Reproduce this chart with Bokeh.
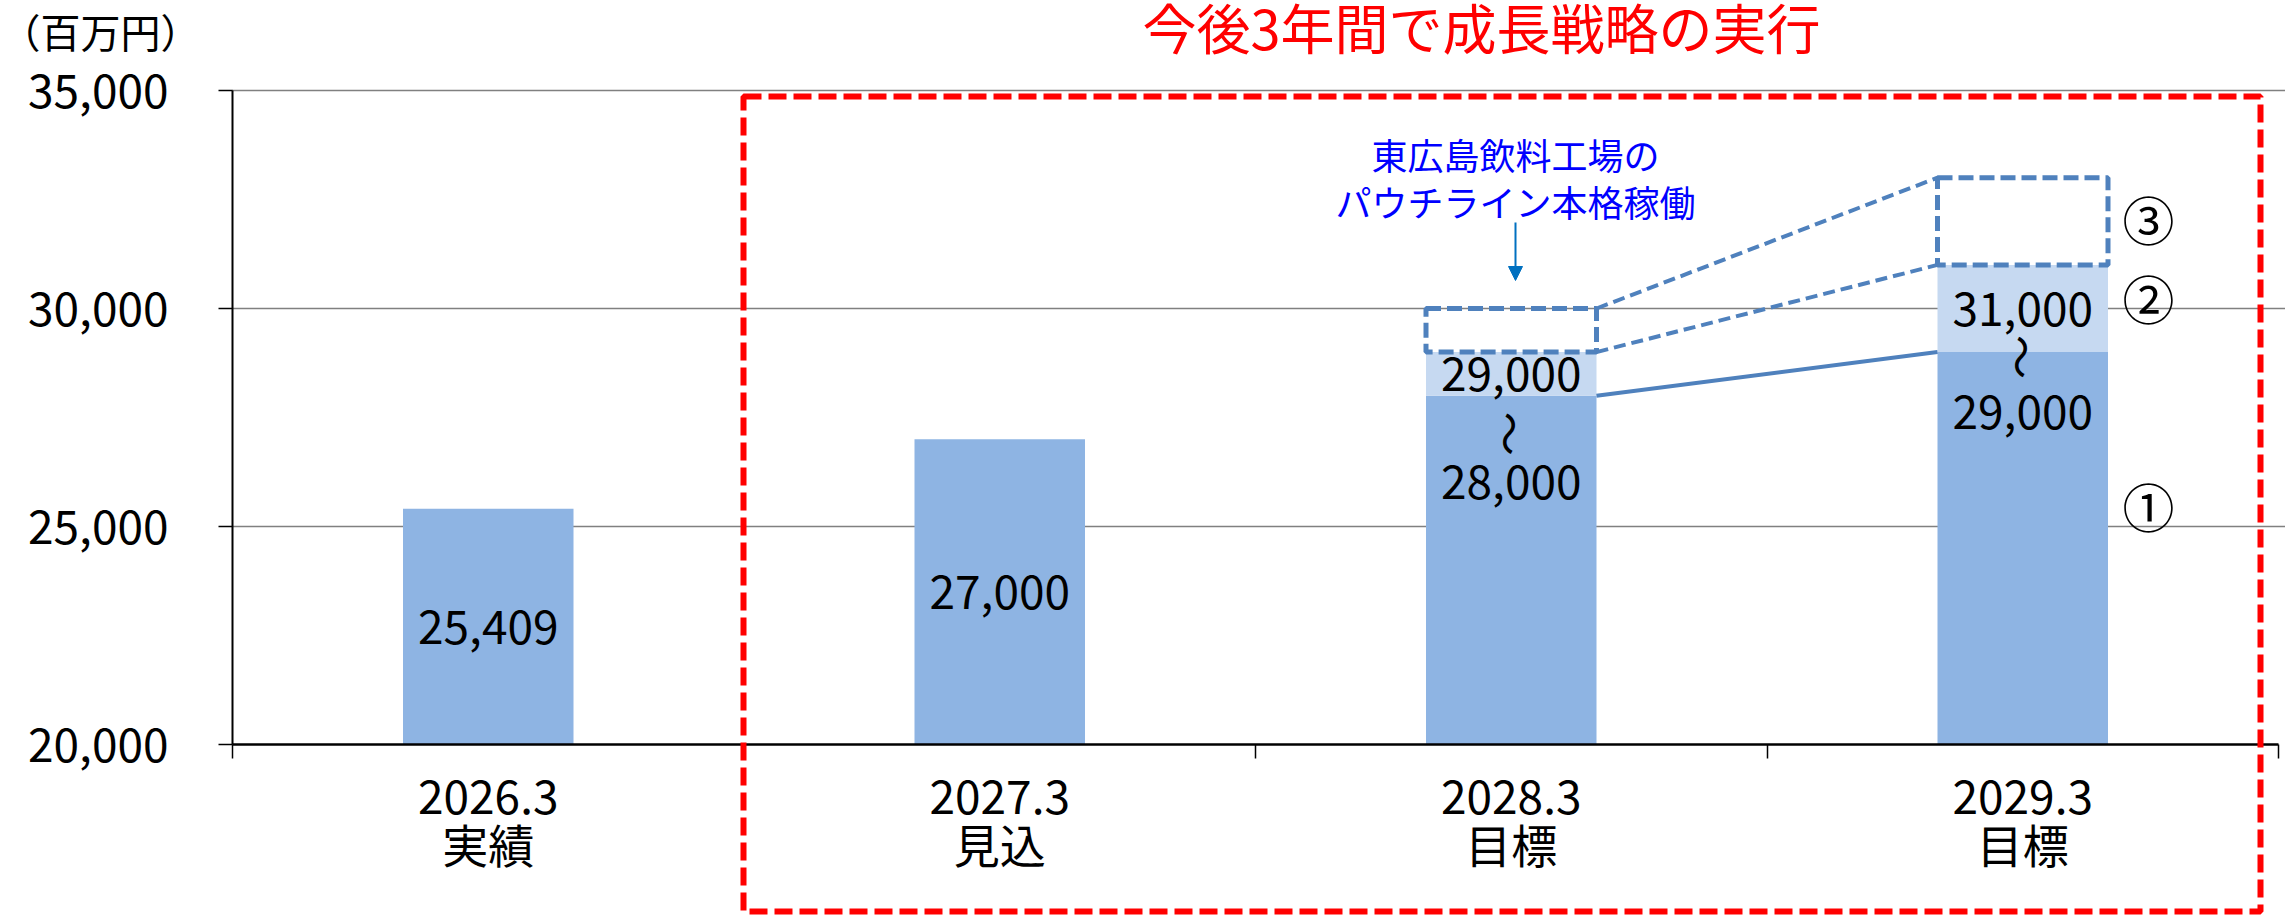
import math
from bokeh.plotting import figure
from bokeh.models import Range1d, FixedTicker, NumeralTickFormatter, Label, Arrow, NormalHead, BoxAnnotation
from bokeh.core.properties import value
from bokeh.embed import file_html
from bokeh.resources import INLINE

# ---------------- data ----------------
categories = ["2026.3", "2027.3", "2028.3", "2029.3"]
category_notes = ["実績", "見込", "目標", "目標"]
base_values = [25409, 27000, 28000, 29000]      # dark segment (lower bound)
upper_values = [None, None, 29000, 31000]       # light segment top (upper bound)
stretch_values = [None, None, 30000, 33000]     # dashed box top (stretch)
y_ticks = [20000, 25000, 30000, 35000]
title_text = "今後3年間で成長戦略の実行"
unit_text = "（百万円）"
note_lines = ["東広島飲料工場の", "パウチライン本格稼働"]
marker_texts = ["①", "②", "③"]

# ---------------- layout / style ----------------
FONT = "Noto Sans CJK JP"
DARK = "#8EB4E3"
LIGHT = "#C6D9F1"
LINE_BLUE = "#4F81BD"
W, H = 2285, 916
FL, FR, FT, FB = 232, 2278, 90, 744     # where the axes sit on the canvas
Y0, Y1 = y_ticks[0], y_ticks[-1]
n = len(categories)
PX_X = (FR - FL) / n
PX_Y = (FB - FT) / (Y1 - Y0)
BAR_W = 1 / 3


def dx(px):
    return (px - FL) / PX_X


def dy(py):
    return Y0 + (FB - py) / PX_Y


p = figure(width=W, height=H, x_range=Range1d(dx(0), dx(W)), y_range=Range1d(dy(H), dy(0)),
           output_backend="svg", toolbar_location=None,
           min_border_left=0, min_border_right=0, min_border_top=0, min_border_bottom=0)
p.outline_line_color = None
p.background_fill_color = "white"
p.border_fill_color = "white"
p.xgrid.visible = False
p.ygrid.visible = False

xs = [i + 0.5 for i in range(n)]

# dotted gridlines (behind the bars)
grid_ticks = [t for t in y_ticks if t != Y0]
p.segment(x0=[0] * len(grid_ticks), x1=[dx(W)] * len(grid_ticks), y0=grid_ticks, y1=grid_ticks,
          line_color="black", line_width=1.5, line_dash="1 1")

# bars
p.vbar(x=xs, bottom=Y0, top=base_values, width=BAR_W, fill_color=DARK, line_color=None)
up_idx = [i for i, v in enumerate(upper_values) if v is not None]
p.vbar(x=[xs[i] for i in up_idx], bottom=[base_values[i] for i in up_idx],
       top=[upper_values[i] for i in up_idx], width=BAR_W, fill_color=LIGHT, line_color=None)

# dashed stretch boxes
st_idx = [i for i, v in enumerate(stretch_values) if v is not None]
p.quad(left=[xs[i] - BAR_W / 2 for i in st_idx], right=[xs[i] + BAR_W / 2 for i in st_idx],
       bottom=[upper_values[i] for i in st_idx], top=[stretch_values[i] for i in st_idx],
       fill_color=None, line_color=LINE_BLUE, line_width=5, line_dash="15 6")

# connectors between the two target bars
a, b = st_idx[0], st_idx[1]
xa, xb = xs[a] + BAR_W / 2, xs[b] - BAR_W / 2
p.segment(x0=[xa, xa], y0=[stretch_values[a], upper_values[a]],
          x1=[xb, xb], y1=[stretch_values[b], upper_values[b]],
          line_color=LINE_BLUE, line_width=4, line_dash="12 6")
p.segment(x0=[xa], y0=[base_values[a]], x1=[xb], y1=[base_values[b]],
          line_color=LINE_BLUE, line_width=4)

# value labels
fmt = lambda v: f"{v:,}"
single = [i for i in range(n) if upper_values[i] is None]
p.text(x=[xs[i] for i in single], y=[(Y0 + base_values[i]) / 2 for i in single],
       text=[fmt(base_values[i]) for i in single], text_align="center", text_baseline="middle",
       text_font=value(FONT), text_font_size="46px", text_color="black")
p.text(x=[xs[i] for i in up_idx], y=[(base_values[i] + upper_values[i]) / 2 for i in up_idx],
       text=[fmt(upper_values[i]) for i in up_idx], text_align="center", text_baseline="middle",
       text_font=value(FONT), text_font_size="46px", text_color="black")
squiggle_off = [38, 5]
lower_off = [86, 60]
p.text(x=[xs[i] for i in up_idx],
       y=[base_values[i] - squiggle_off[k] / PX_Y for k, i in enumerate(up_idx)],
       text=["〜"] * len(up_idx), angle=-math.pi / 2, text_align="center", text_baseline="middle",
       text_font=value(FONT), text_font_size="44px", text_color="black")
p.text(x=[xs[i] for i in up_idx],
       y=[base_values[i] - lower_off[k] / PX_Y for k, i in enumerate(up_idx)],
       text=[fmt(base_values[i]) for i in up_idx], text_align="center", text_baseline="middle",
       text_font=value(FONT), text_font_size="46px", text_color="black")

# axes (pinned at the data origin)
xa_ = p.xaxis[0]
xa_.fixed_location = Y0
xa_.bounds = (0, n)
xa_.ticker = FixedTicker(ticks=xs, minor_ticks=list(range(n + 1)))
xa_.major_label_overrides = {x: f"{c}\n{nt}" for x, c, nt in zip(xs, categories, category_notes)}
xa_.major_tick_line_color = None
xa_.major_tick_out = 14
xa_.major_tick_in = 0
xa_.minor_tick_out = 14
xa_.minor_tick_in = 0
xa_.minor_tick_line_color = "black"
xa_.minor_tick_line_width = 1.5
xa_.axis_line_width = 2.5
xa_.axis_line_color = "black"
xa_.major_label_text_font = FONT
xa_.major_label_text_font_size = "46px"
xa_.major_label_text_color = "black"
xa_.major_label_text_line_height = 0.75
xa_.major_label_standoff = 2

ya_ = p.yaxis[0]
ya_.fixed_location = 0
ya_.bounds = (Y0, Y1)
ya_.ticker = FixedTicker(ticks=y_ticks, minor_ticks=[])
ya_.formatter = NumeralTickFormatter(format="0,0")
ya_.major_tick_out = 14
ya_.major_tick_in = 0
ya_.major_tick_line_width = 1.5
ya_.minor_tick_line_color = None
ya_.axis_line_width = 2
ya_.axis_line_color = "black"
ya_.major_label_standoff = 50
ya_.major_label_text_font = FONT
ya_.major_label_text_font_size = "46px"
ya_.major_label_text_color = "black"

# red dashed frame for the 3-year plan
p.add_layout(BoxAnnotation(left=dx(743), right=dx(2260), top=dy(96), bottom=dy(911),
                           fill_color=None, fill_alpha=0, line_color="#FF0000", line_alpha=1.0,
                           line_width=6, line_dash="18 7", level="overlay"))

# texts
p.add_layout(Label(x=dx(1481), y=dy(26), text=title_text, text_align="center",
                   text_baseline="alphabetic", text_font=FONT, text_font_size="54px",
                   text_color="#FF0000"))
p.add_layout(Label(x=dx(0), y=dy(30), text=unit_text, text_align="left", text_baseline="middle",
                   text_font=FONT, text_font_size="40px", text_color="black"))
for line, py in zip(note_lines, [153, 200]):
    p.add_layout(Label(x=dx(1515), y=dy(py), text=line, text_align="center", text_baseline="middle",
                       text_font=FONT, text_font_size="36px", text_color="#0000FF"))
p.add_layout(Arrow(end=NormalHead(size=14, fill_color="#0070C0", line_color="#0070C0"),
                   x_start=dx(1515), y_start=dy(222), x_end=dx(1515), y_end=dy(280),
                   line_color="#0070C0", line_width=2))
for t, py in zip(marker_texts, [505, 297, 218]):
    p.add_layout(Label(x=dx(2148), y=dy(py), text=t, text_align="center", text_baseline="middle",
                       text_font=FONT, text_font_size="52px", text_color="black"))

open("out.html", "w").write(file_html(p, INLINE))
